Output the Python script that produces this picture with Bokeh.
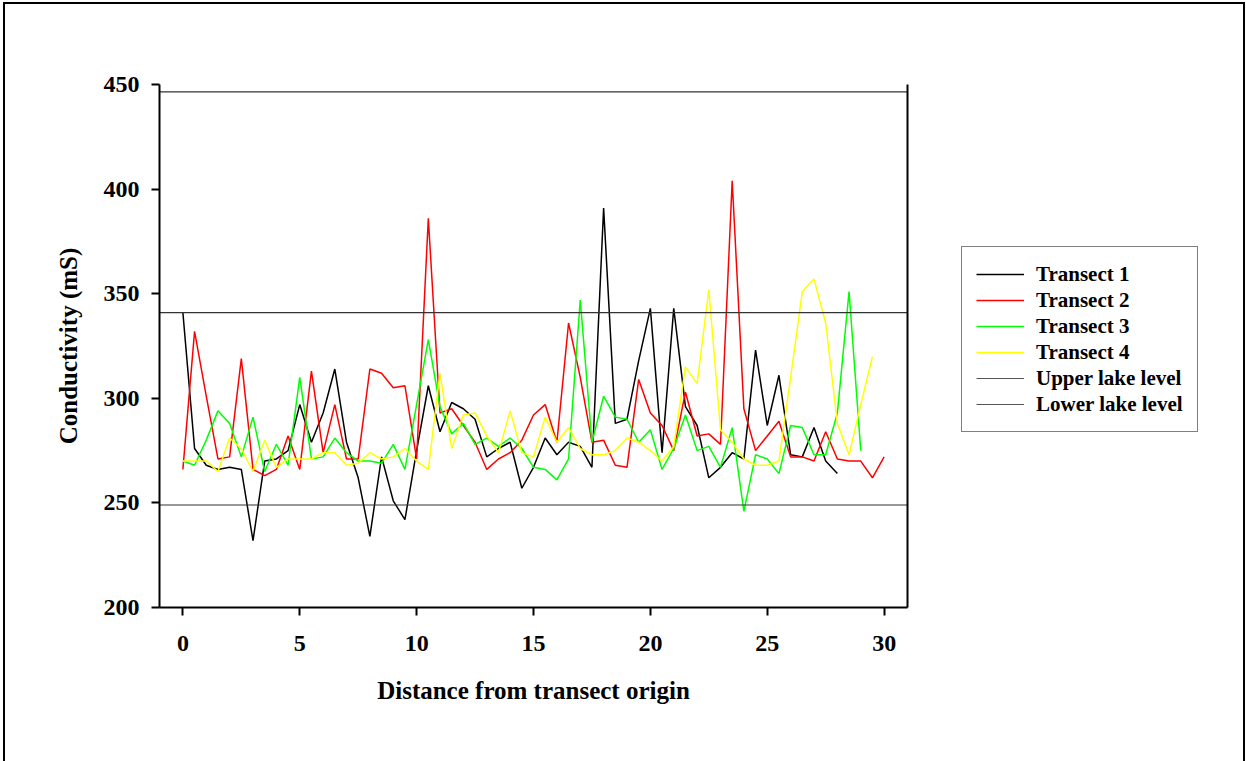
from bokeh.plotting import figure
from bokeh.layouts import row
from bokeh.models import Range1d, LinearAxis, Legend, LegendItem, FixedTicker
from bokeh.embed import file_html
from bokeh.resources import INLINE

# ---- data ----
x_t1 = [i * 0.5 for i in range(0, 57)]   # 0 .. 28
t1 = [341, 276, 268, 266, 267, 266, 232, 270, 271, 275, 297, 279, 293, 314, 279, 262,
      234, 272, 251, 242, 275, 306, 284, 298, 295, 290, 272, 276, 279, 257, 267, 281,
      273, 279, 277, 267, 391, 288, 290, 318, 343, 274, 343, 296, 287, 262, 267, 274,
      271, 323, 287, 311, 273, 272, 286, 270, 264]
x_t2 = [i * 0.5 for i in range(0, 61)]   # 0 .. 30
t2 = [266, 332, 301, 271, 272, 319, 266, 263, 266, 282, 266, 313, 274, 297, 271, 271,
      314, 312, 305, 306, 271, 386, 293, 295, 287, 279, 266, 271, 274, 280, 292, 297,
      279, 336, 310, 279, 280, 268, 267, 309, 293, 287, 275, 303, 282, 283, 278, 404,
      295, 275, 282, 289, 272, 272, 270, 284, 271, 270, 270, 262, 272]
x_t3 = [i * 0.5 for i in range(0, 59)]   # 0 .. 29
t3 = [270, 268, 280, 294, 288, 272, 291, 265, 278, 268, 310, 271, 272, 281, 274, 270,
      270, 269, 278, 266, 297, 328, 296, 283, 288, 278, 281, 277, 281, 276, 267, 266,
      261, 271, 347, 279, 301, 291, 290, 279, 285, 266, 276, 292, 275, 277, 267, 286,
      246, 273, 271, 264, 287, 286, 273, 273, 293, 351, 275]
x_t4 = [i * 0.5 for i in range(0, 60)]   # 0 .. 29.5
t4 = [270, 270, 270, 265, 281, 276, 265, 280, 267, 271, 271, 271, 274, 274, 268, 269,
      274, 271, 272, 276, 270, 266, 312, 276, 292, 293, 282, 274, 294, 274, 272, 291,
      279, 286, 276, 273, 273, 275, 281, 279, 275, 270, 277, 315, 307, 352, 285, 279,
      271, 268, 268, 270, 310, 351, 357, 336, 288, 273, 297, 320]
upper_level = 341
lower_level = 249
top_line = 446.5

series_names = ["Transect 1", "Transect 2", "Transect 3", "Transect 4"]
series_colors = ["#000000", "#FF0000", "#00FF00", "#FFFF00"]
level_names = ["Upper lake level", "Lower lake level"]
level_values = [upper_level, lower_level]
level_color = "#333333"
x_ticks = [0, 5, 10, 15, 20, 25, 30]
y_ticks = [200, 250, 300, 350, 400, 450]

FONT = "Liberation Serif"

# ---- main plot ----
p = figure(width=910, height=761, output_backend="svg", toolbar_location=None,
           x_range=Range1d(-1, 31), y_range=Range1d(200, 450),
           min_border_left=159, min_border_right=3, min_border_top=84, min_border_bottom=154)
p.outline_line_color = None
p.xgrid.visible = False
p.ygrid.visible = False
p.border_fill_color = None
p.background_fill_color = "white"

for ax in (p.xaxis[0], p.yaxis[0]):
    ax.axis_line_width = 2
    ax.axis_line_color = "black"
    ax.major_tick_line_width = 2
    ax.major_tick_in = 0
    ax.major_tick_out = 8
    ax.minor_tick_line_color = None
    ax.major_label_text_font = FONT
    ax.major_label_text_font_style = "bold"
    ax.major_label_text_font_size = "24px"
    ax.major_label_text_color = "black"
    ax.axis_label_text_font = FONT
    ax.axis_label_text_font_style = "bold"
    ax.axis_label_text_font_size = "25px"
    ax.axis_label_text_color = "black"

p.xaxis[0].ticker = FixedTicker(ticks=x_ticks)
p.yaxis[0].ticker = FixedTicker(ticks=y_ticks)
p.xaxis[0].axis_label = "Distance from transect origin"
p.yaxis[0].axis_label = "Conductivity (mS)"
p.xaxis[0].major_label_standoff = 20
p.yaxis[0].major_label_standoff = 12
p.xaxis[0].axis_label_standoff = 23
p.yaxis[0].axis_label_standoff = 19

right_ax = LinearAxis(axis_line_width=2, axis_line_color="black",
                      major_tick_line_color=None, minor_tick_line_color=None,
                      major_tick_in=0, major_tick_out=0,
                      major_label_text_font_size="0px", ticker=FixedTicker(ticks=[]))
p.add_layout(right_ax, "right")

xs_all = [x_t1, x_t2, x_t3, x_t4]
ys_all = [t1, t2, t3, t4]
for col, xs, ys in zip(series_colors, xs_all, ys_all):
    p.line(xs, ys, line_color=col, line_width=1.5)

x_lo, x_hi = p.x_range.start, p.x_range.end
for lvl in (upper_level, lower_level, top_line):
    p.line([x_lo, x_hi], [lvl, lvl], line_color=level_color, line_width=1.2)

# ---- legend panel: same series drawn in a plot whose visible window is empty ----
q = figure(width=336, height=761, output_backend="svg", toolbar_location=None,
           x_axis_location=None, y_axis_location=None, min_border=0,
           x_range=Range1d(-1, 31), y_range=Range1d(1000, 1001))
q.outline_line_color = None
q.xgrid.visible = False
q.ygrid.visible = False
q.border_fill_color = None
q.background_fill_color = None

items = []
for name, col, xs, ys in zip(series_names, series_colors, xs_all, ys_all):
    r = q.line(xs, ys, line_color=col, line_width=1.5)
    items.append(LegendItem(label=name, renderers=[r]))
for name, lvl in zip(level_names, level_values):
    r = q.line([x_lo, x_hi], [lvl, lvl], line_color="#555555", line_width=1.2)
    items.append(LegendItem(label=name, renderers=[r]))

legend = Legend(items=items, location=(51, 175), orientation="vertical",
                border_line_color="black", border_line_width=1,
                background_fill_color="white", background_fill_alpha=1,
                padding=14, spacing=0, margin=0,
                label_height=26, glyph_height=26, glyph_width=48, label_standoff=12,
                label_text_font=FONT, label_text_font_style="bold",
                label_text_font_size="21px", label_text_color="black")
q.add_layout(legend, "center")

layout = row(p, q, spacing=0)
layout.styles = {"background": (
    "linear-gradient(#000,#000) 3px 2px / 2px 100% no-repeat, "
    "linear-gradient(#000,#000) 3px 2px / 1242px 2px no-repeat, "
    "linear-gradient(#000,#000) 1243px 2px / 2px 100% no-repeat, #fff")}

open("out.html", "w").write(file_html(layout, INLINE))
